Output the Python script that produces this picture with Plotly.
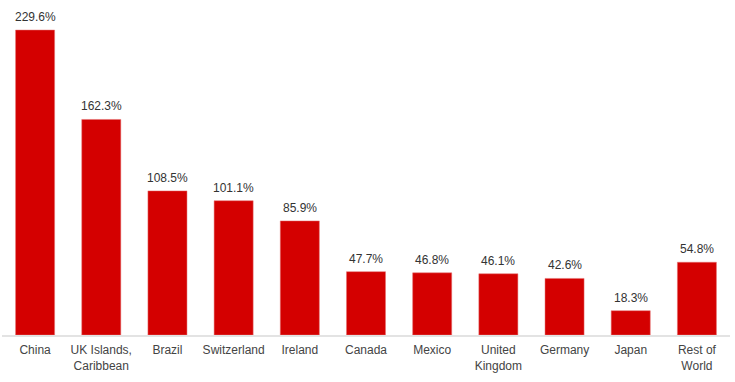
import plotly.graph_objects as go

categories = ["China", "UK Islands,<br>Caribbean", "Brazil", "Switzerland", "Ireland",
              "Canada", "Mexico", "United<br>Kingdom", "Germany", "Japan", "Rest of<br>World"]
values = [229.6, 162.3, 108.5, 101.1, 85.9, 47.7, 46.8, 46.1, 42.6, 18.3, 54.8]
labels = [f"{v:.1f}%" for v in values]

fig = go.Figure()
fig.add_trace(go.Bar(
    x=categories, y=values,
    marker=dict(color="#d40000", line=dict(color="#e57373", width=0.5)),
    hoverinfo="skip",
))

for c, v, t in zip(categories, values, labels):
    fig.add_annotation(x=c, y=v, text=t, showarrow=False, yanchor="bottom",
                       yshift=4, font=dict(size=12, color="#333333"))

fig.update_layout(
    width=735, height=382,
    margin=dict(l=2, r=5, t=10, b=47),
    paper_bgcolor="white", plot_bgcolor="white",
    bargap=0.41,
    showlegend=False,
    font=dict(family="Liberation Sans, Arial, sans-serif", size=12, color="#444444"),
    xaxis=dict(showline=True, linecolor="#e3e3e3", linewidth=2, ticks="",
               showgrid=False, tickfont=dict(size=12, color="#444444"),
               ticklabelstandoff=3),
    yaxis=dict(range=[0, 244.7], visible=False, showgrid=False, zeroline=False),
)

fig.write_html("out.html", config={"displayModeBar": False},
               post_script="document.body.style.margin='0';")
